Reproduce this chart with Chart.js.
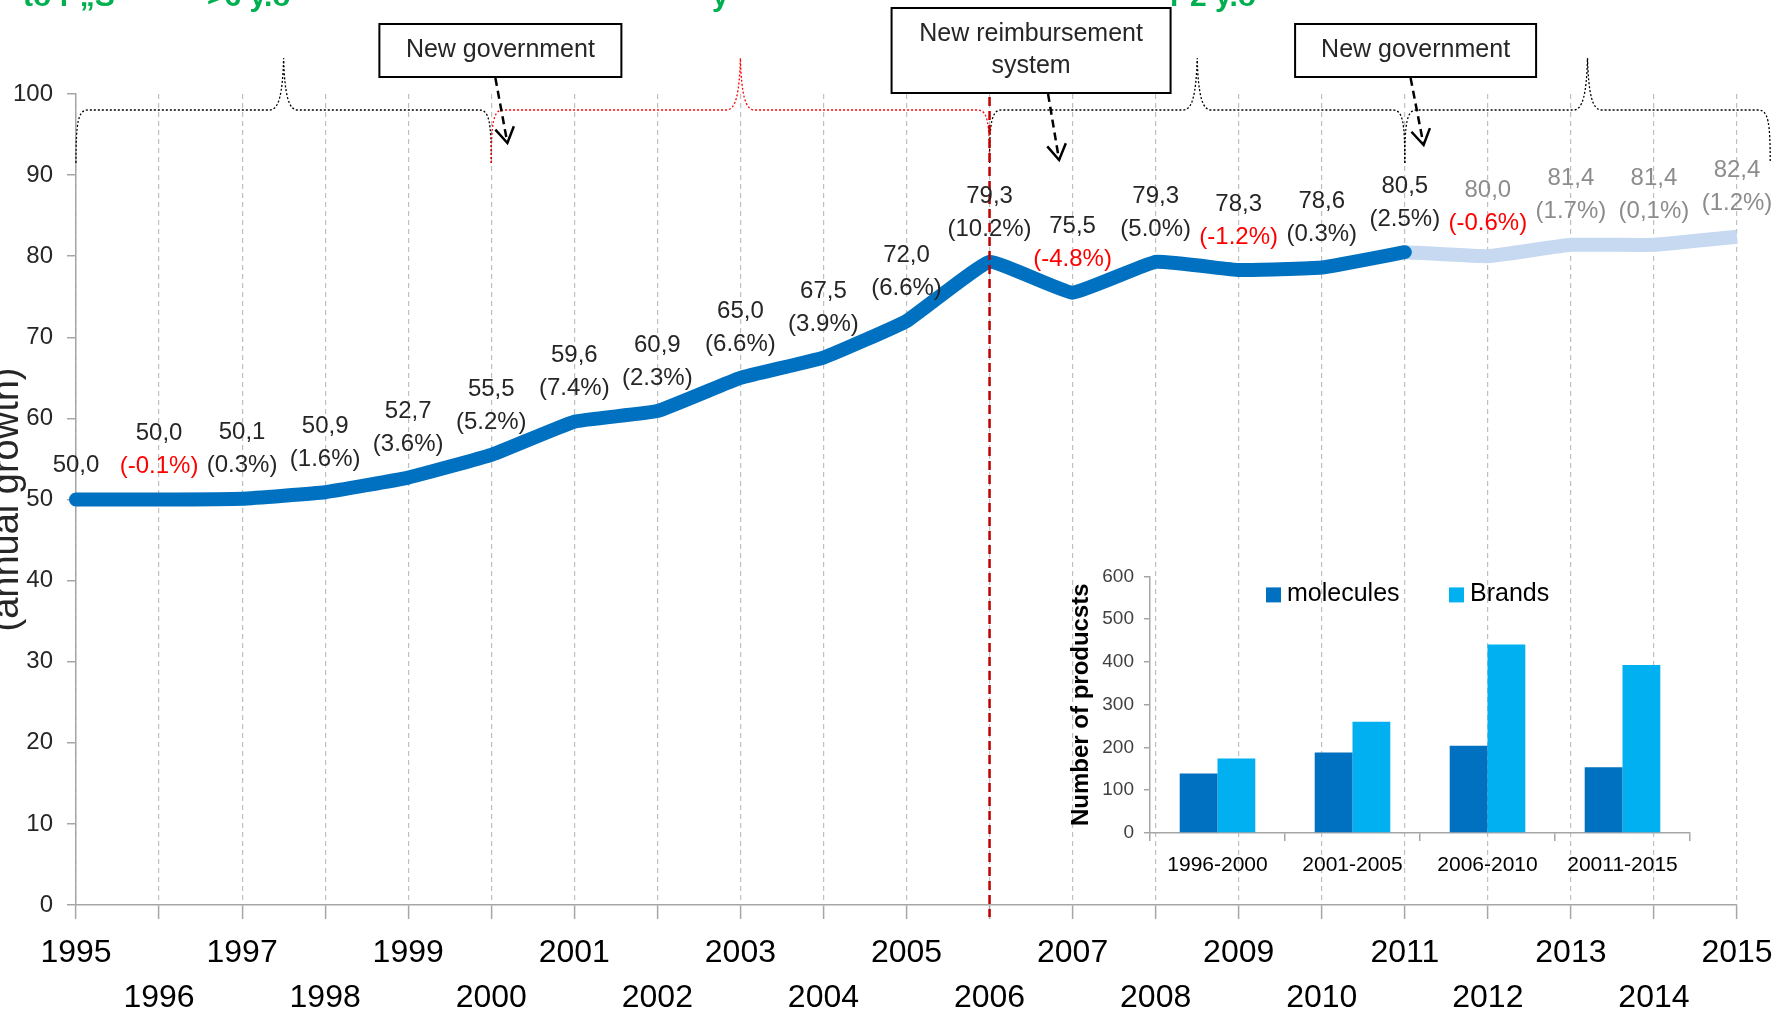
<!DOCTYPE html>
<html>
<head>
<meta charset="utf-8">
<script src="https://cdn.jsdelivr.net/npm/chart.js@4.4.0/dist/chart.umd.min.js"></script>
<style>
  body { margin: 0; background: #fff; }
  #wrap { position: relative; width: 1777px; height: 1015px; overflow: hidden; }
  #main { position: absolute; left: 0; top: 0; }
  #inset { position: absolute; left: 1060px; top: 555px; }
</style>
</head>
<body>
<div id="wrap">
  <canvas id="main" width="1777" height="1015"></canvas>
  <canvas id="inset" width="680" height="340"></canvas>
</div>
<script>
// datos de la serie principal
const years = ['1995','1996','1997','1998','1999','2000','2001','2002','2003','2004',
               '2005','2006','2007','2008','2009','2010','2011','2012','2013','2014','2015'];
const indexValues = [50.0, 50.0, 50.1, 50.9, 52.7, 55.5, 59.6, 60.9, 65.0, 67.5,
                     72.0, 79.3, 75.5, 79.3, 78.3, 78.6, 80.5, 80.0, 81.4, 81.4, 82.4];
const valueLabels = ['50,0','50,0','50,1','50,9','52,7','55,5','59,6','60,9','65,0','67,5',
                     '72,0','79,3','75,5','79,3','78,3','78,6','80,5','80,0','81,4','81,4','82,4'];
const growthLabels = [null,'(-0.1%)','(0.3%)','(1.6%)','(3.6%)','(5.2%)','(7.4%)','(2.3%)','(6.6%)','(3.9%)',
                      '(6.6%)','(10.2%)','(-4.8%)','(5.0%)','(-1.2%)','(0.3%)','(2.5%)','(-0.6%)','(1.7%)','(0,1%)','(1.2%)'];
const lastActual = 16; // 2011

// datos del gráfico pequeño
const periods   = ['1996-2000','2001-2005','2006-2010','20011-2015'];
const molecules = [139, 188, 204, 154];
const brands    = [174, 260, 441, 393];

const FONT = "'Liberation Sans', Arial, sans-serif";

const actualData    = indexValues.map((v, i) => i <= lastActual ? v : null);
const projectedData = indexValues.map((v, i) => i >= lastActual ? v : null);

// llaves punteadas arriba (en índices de año)
const braces = [[0, 5, '#000'], [5, 11, '#FF0000'], [11, 16, '#000'], [16, 20.4, '#000']];

function drawBrace(ctx, xa, xb) {
  const yh = 110, yb = 163, yp = 58, xm = (xa + xb) / 2;
  ctx.beginPath();
  ctx.moveTo(xa, yb);
  ctx.bezierCurveTo(xa, yh + 12, xa + 2, yh, xa + 12, yh);
  ctx.lineTo(xm - 14, yh);
  ctx.bezierCurveTo(xm - 5, yh, xm - 1, yh - 15, xm, yp);
  ctx.bezierCurveTo(xm + 1, yh - 15, xm + 5, yh, xm + 14, yh);
  ctx.lineTo(xb - 12, yh);
  ctx.bezierCurveTo(xb - 2, yh, xb, yh + 12, xb, yb);
  ctx.stroke();
}

function drawArrow(ctx, x1, y1, x2, y2) {
  ctx.save();
  ctx.strokeStyle = '#000';
  ctx.lineWidth = 2.5;
  ctx.setLineDash([8, 5]);
  ctx.beginPath(); ctx.moveTo(x1, y1); ctx.lineTo(x2, y2); ctx.stroke();
  ctx.setLineDash([]);
  const a = Math.atan2(y2 - y1, x2 - x1);
  ctx.beginPath();
  ctx.moveTo(x2 - 18 * Math.cos(a - 0.55), y2 - 18 * Math.sin(a - 0.55));
  ctx.lineTo(x2, y2);
  ctx.lineTo(x2 - 18 * Math.cos(a + 0.55), y2 - 18 * Math.sin(a + 0.55));
  ctx.stroke();
  ctx.restore();
}

function drawBox(ctx, cx, top, w, h, lines) {
  ctx.save();
  ctx.fillStyle = '#fff';
  ctx.fillRect(cx - w / 2, top, w, h);
  ctx.strokeStyle = '#000';
  ctx.lineWidth = 2;
  ctx.strokeRect(cx - w / 2, top, w, h);
  ctx.fillStyle = '#262626';
  ctx.font = '25px ' + FONT;
  ctx.textAlign = 'center';
  ctx.textBaseline = 'middle';
  const cy = top + h / 2;
  lines.forEach((t, i) => ctx.fillText(t, cx, cy + (i - (lines.length - 1) / 2) * 32));
  ctx.restore();
}

const annotPlugin = {
  id: 'annot',
  afterDraw(chart) {
    const ctx = chart.ctx;
    const x = chart.scales.x;
    const area = chart.chartArea;

    // texto verde recortado arriba
    ctx.save();
    ctx.fillStyle = '#00B050';
    ctx.font = 'bold 30px ' + FONT;
    ctx.textBaseline = 'alphabetic';
    ctx.fillText('to r \u201eS', 23, 6);
    ctx.fillText('>6 y.o', 207, 6);
    ctx.fillText('y', 712, 6);
    ctx.fillText('r 2 y.o', 1170, 6);
    ctx.restore();

    // llaves
    ctx.save();
    ctx.lineWidth = 1.3;
    ctx.setLineDash([2, 2]);
    braces.forEach(([a, b, c]) => {
      ctx.strokeStyle = c;
      drawBrace(ctx, x.getPixelForValue(a), x.getPixelForValue(b));
    });
    ctx.restore();

    // línea roja 2006
    const xr = x.getPixelForValue(11);
    ctx.save();
    ctx.strokeStyle = '#C00000';
    ctx.lineWidth = 2.5;
    ctx.setLineDash([9, 5]);
    ctx.beginPath(); ctx.moveTo(xr, 97); ctx.lineTo(xr, area.bottom + 12); ctx.stroke();
    ctx.restore();

    // cajas y flechas
    const b1 = x.getPixelForValue(5.11), b2 = x.getPixelForValue(11.5), b3 = x.getPixelForValue(16.13);
    drawBox(ctx, b1, 24, 242, 53, ['New government']);
    drawBox(ctx, b2, 8, 279, 85, ['New reimbursement', 'system']);
    drawBox(ctx, b3, 24, 241, 53, ['New government']);
    drawArrow(ctx, b1 - 5, 78, b1 + 7, 143);
    drawArrow(ctx, b2 + 17, 94, b2 + 28, 160);
    drawArrow(ctx, b3 - 5, 78, b3 + 8, 145);

    // etiquetas de datos
    ctx.save();
    ctx.font = '24px ' + FONT;
    ctx.textAlign = 'center';
    ctx.textBaseline = 'middle';
    const yS = chart.scales.y;
    indexValues.forEach((v, i) => {
      const px = x.getPixelForValue(i);
      const py = yS.getPixelForValue(v);
      const base = i > lastActual ? '#8C8C8C' : '#262626';
      const g = growthLabels[i];
      if (!g) {
        ctx.fillStyle = base;
        ctx.fillText(valueLabels[i], px, py - 34);
        return;
      }
      ctx.fillStyle = base;
      ctx.fillText(valueLabels[i], px, py - 66);
      ctx.fillStyle = g.indexOf('-') >= 0 ? '#FF0000' : base;
      ctx.fillText(g, px, py - 33);
    });
    ctx.restore();
  }
};

new Chart(document.getElementById('main'), {
  type: 'line',
  data: {
    labels: years,
    datasets: [
      { label: 'actual', data: actualData, borderColor: '#0070C0', borderWidth: 14,
        pointRadius: 0, tension: 0.1, borderCapStyle: 'round', borderJoinStyle: 'round', order: 1 },
      { label: 'projected', data: projectedData, borderColor: '#C6D9F1', borderWidth: 14,
        pointRadius: 0, tension: 0.1, borderCapStyle: 'butt', borderJoinStyle: 'round', order: 2 }
    ]
  },
  options: {
    responsive: false,
    animation: false,
    layout: { padding: { top: 94, right: 40, left: 0, bottom: 0 } },
    plugins: { legend: { display: false }, tooltip: { enabled: false } },
    scales: {
      x: {
        grid: { color: '#BFBFBF', lineWidth: 1.2, tickLength: 14, tickColor: '#A6A6A6', tickWidth: 1.5 },
        border: { color: '#A6A6A6', width: 1.5, dash: [5, 4] },
        ticks: {
          autoSkip: false, maxRotation: 0, color: '#000', padding: 12,
          font: { size: 32, family: FONT, lineHeight: 1.4 },
          callback: (v, i) => i % 2 === 0 ? [years[i], ''] : ['', years[i]]
        },
        afterFit: s => { s.height = 110; s.paddingLeft = 0; s.paddingRight = 0; }
      },
      y: {
        min: 0, max: 100,
        ticks: { stepSize: 10, color: '#262626', padding: 14, font: { size: 24, family: FONT } },
        grid: { drawOnChartArea: false, tickLength: 9, color: '#A6A6A6', lineWidth: 1.5 },
        border: { color: '#A6A6A6', width: 1.5 },
        title: { display: true, text: '(annual growth)', color: '#262626',
                 font: { size: 38, family: FONT, lineHeight: 0.42 }, padding: { top: 0, bottom: 0 } },
        afterFit: s => { s.width = 76; }
      }
    }
  },
  plugins: [annotPlugin]
});

// leyenda del gráfico pequeño
const insetLegend = {
  id: 'insetLegend',
  afterDraw(chart) {
    const ctx = chart.ctx;
    const a = chart.chartArea;
    const items = [[116, chart.data.datasets[0]], [299, chart.data.datasets[1]]];
    ctx.save();
    ctx.font = '25px ' + FONT;
    ctx.textBaseline = 'middle';
    items.forEach(([dx, ds]) => {
      ctx.fillStyle = ds.backgroundColor;
      ctx.fillRect(a.left + dx, a.top + 11, 15, 15);
      ctx.fillStyle = '#000';
      ctx.fillText(ds.label, a.left + dx + 21, a.top + 18);
    });
    ctx.restore();
  }
};

new Chart(document.getElementById('inset'), {
  type: 'bar',
  data: {
    labels: periods,
    datasets: [
      { label: 'molecules', data: molecules, backgroundColor: '#0070C0' },
      { label: 'Brands', data: brands, backgroundColor: '#00B0F0' }
    ]
  },
  options: {
    responsive: false,
    animation: false,
    layout: { padding: { top: 20, right: 50, left: 0, bottom: 0 } },
    plugins: { legend: { display: false }, tooltip: { enabled: false } },
    datasets: { bar: { categoryPercentage: 0.56, barPercentage: 1 } },
    scales: {
      x: {
        grid: { offset: true, drawOnChartArea: false, tickLength: 8, color: '#A6A6A6', lineWidth: 1.5 },
        border: { color: '#A6A6A6', width: 1.5 },
        ticks: { color: '#000', padding: 12, font: { size: 21, family: FONT } },
        afterFit: s => { s.height = 62; }
      },
      y: {
        min: 0, max: 600,
        ticks: { stepSize: 100, color: '#404040', padding: 10, font: { size: 19, family: FONT } },
        grid: { drawOnChartArea: false, tickLength: 6, color: '#A6A6A6', lineWidth: 1.5 },
        border: { color: '#A6A6A6', width: 1.5 },
        title: { display: true, text: 'Number of producsts', color: '#000',
                 font: { size: 24, weight: 'bold', family: FONT, lineHeight: 1.1 }, padding: { top: 8, bottom: 0 } },
        afterFit: s => { s.width = 90; }
      }
    }
  },
  plugins: [insetLegend]
});
</script>
</body>
</html>
